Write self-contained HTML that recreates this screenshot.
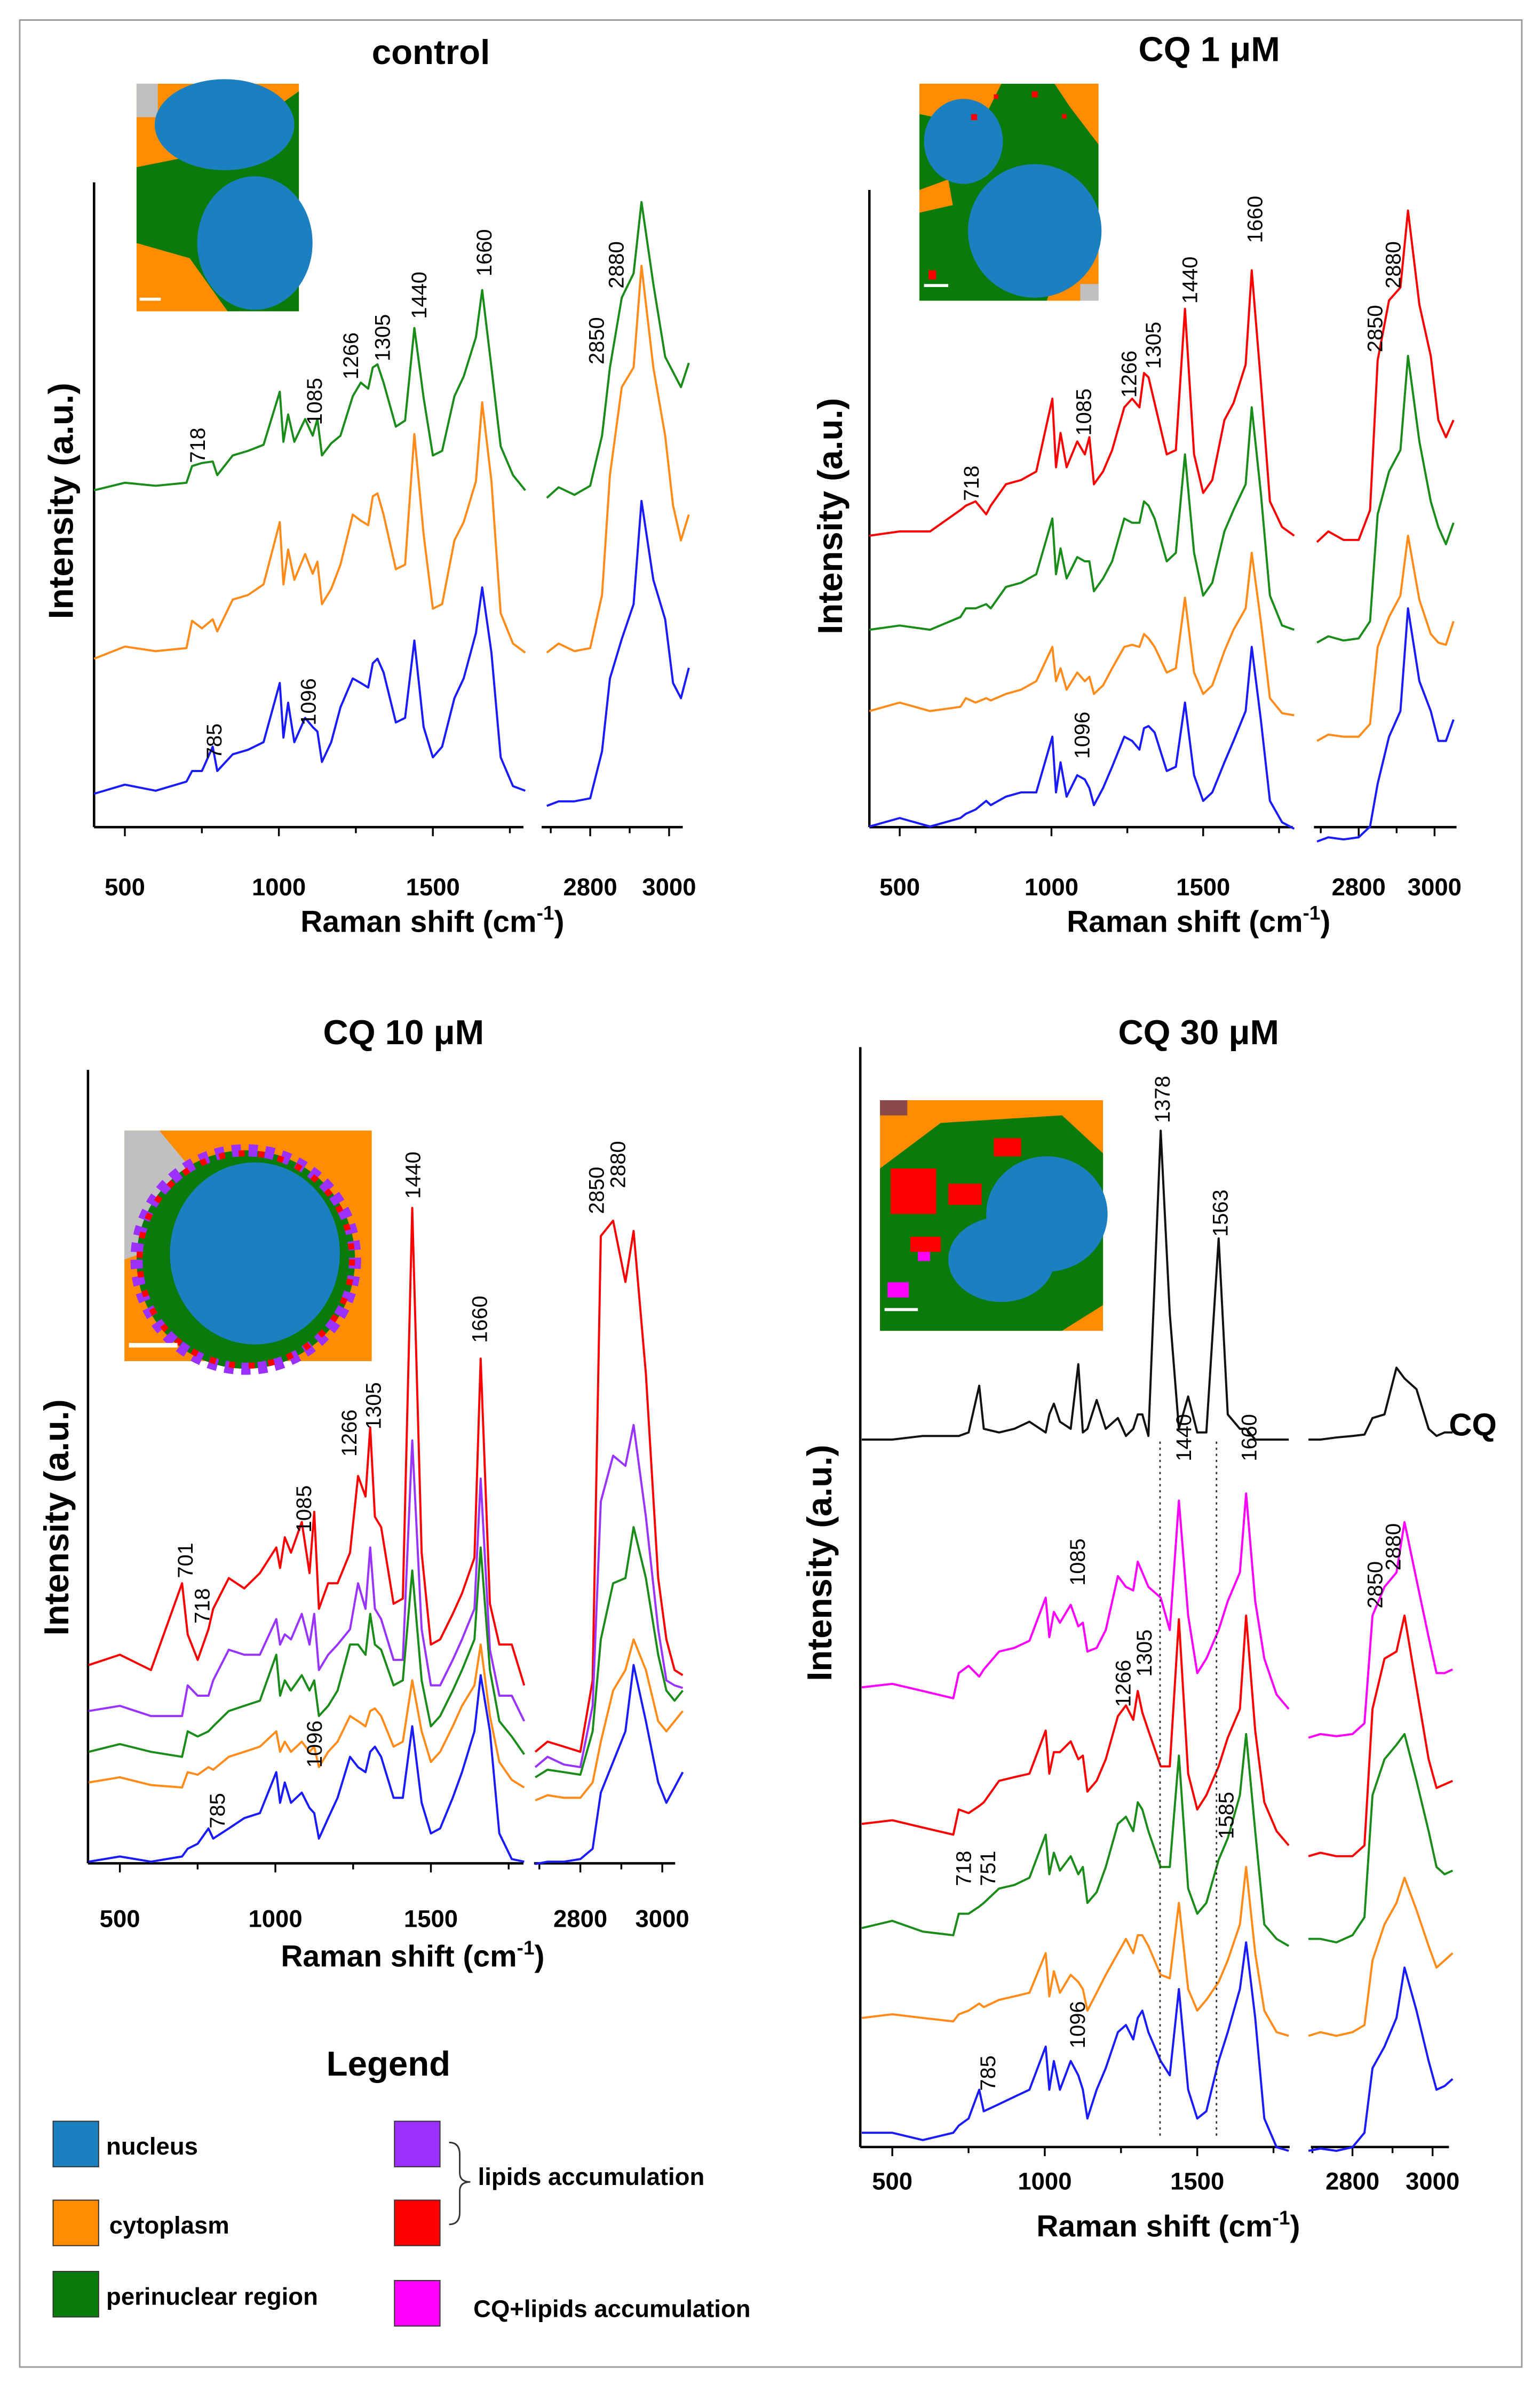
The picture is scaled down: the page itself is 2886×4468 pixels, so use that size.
<!DOCTYPE html>
<html><head><meta charset="utf-8"><style>
html,body{margin:0;padding:0;background:#fff}
svg{display:block}
text{font-family:"Liberation Sans",Arial,sans-serif}
</style></head><body>
<svg id="fig" width="2886" height="4468" viewBox="0 0 1015 1571" xmlns="http://www.w3.org/2000/svg">
<rect x="13" y="13" width="990" height="1547" fill="none" stroke="#999" stroke-width="1"/>
<g>
<rect x="90" y="55" width="107" height="150" fill="#ff8c00"/>
<rect x="90" y="55" width="14" height="22" fill="#c0c0c0"/>
<path d="M90 110 L140 100 L197 60 L197 205 L150 205 L125 170 L90 160 Z" fill="#0a7a0a"/>
<ellipse cx="148" cy="82" rx="46" ry="30" fill="#1a80c0"/>
<ellipse cx="168" cy="160" rx="38" ry="44" fill="#1a80c0"/>
<rect x="92" y="196" width="14" height="2" fill="#fff"/>
</g>
<g>
<rect x="606" y="55" width="118" height="143" fill="#0a7a0a"/>
<path d="M606 55 L660 55 L650 75 L630 80 L606 75 Z" fill="#ff8c00"/>
<path d="M695 55 L724 55 L724 95 L705 70 Z" fill="#ff8c00"/>
<path d="M606 125 L625 118 L628 135 L606 140 Z" fill="#ff8c00"/>
<path d="M700 165 L724 160 L724 198 L690 198 Z" fill="#ff8c00"/>
<ellipse cx="635" cy="93" rx="26" ry="28" fill="#1a80c0"/>
<ellipse cx="682" cy="152" rx="44" ry="44" fill="#1a80c0"/>
<rect x="712" y="187" width="12" height="11" fill="#c0c0c0"/>
<rect x="640" y="75" width="4" height="4" fill="#ff0000"/><rect x="680" y="60" width="4" height="4" fill="#ff0000"/><rect x="612" y="178" width="5" height="6" fill="#ff0000"/>
<rect x="655" y="62" width="3" height="3" fill="#ff0000"/><rect x="700" y="75" width="3" height="3" fill="#ff0000"/>
<rect x="609" y="187" width="16" height="2" fill="#fff"/>
</g>
<g>
<rect x="82" y="745" width="163" height="152" fill="#ff8c00"/>
<path d="M82 745 L105 745 L130 775 L110 820 L82 830 Z" fill="#c0c0c0"/>
<ellipse cx="162" cy="830" rx="72" ry="72" fill="#0a7a0a"/>
<ellipse cx="162" cy="830" rx="72" ry="72" fill="none" stroke="#9b30ff" stroke-width="8" stroke-dasharray="6 5"/>
<ellipse cx="162" cy="830" rx="70" ry="70" fill="none" stroke="#ff0000" stroke-width="4" stroke-dasharray="4 9"/>
<ellipse cx="168" cy="826" rx="56" ry="60" fill="#1a80c0"/>
<rect x="85" y="885" width="32" height="3" fill="#fff"/>
</g>
<g>
<rect x="580" y="725" width="147" height="152" fill="#ff8c00"/>
<path d="M580 770 L620 740 L700 735 L727 760 L727 860 L700 877 L580 877 Z" fill="#0a7a0a"/>
<ellipse cx="690" cy="800" rx="40" ry="38" fill="#1a80c0"/>
<ellipse cx="660" cy="830" rx="35" ry="28" fill="#1a80c0"/>
<rect x="587" y="770" width="30" height="30" fill="#ff0000"/><rect x="625" y="780" width="22" height="14" fill="#ff0000"/>
<rect x="600" y="815" width="20" height="10" fill="#ff0000"/><rect x="655" y="750" width="18" height="12" fill="#ff0000"/>
<rect x="585" y="845" width="14" height="10" fill="#ff00ff"/><rect x="605" y="825" width="8" height="6" fill="#ff00ff"/>
<rect x="580" y="725" width="18" height="10" fill="#8b4a4a"/>
<rect x="583" y="862" width="22" height="2" fill="#fff"/>
</g>
<g id="plots"></g>
<g font-weight="bold" font-size="16">
<text x="256" y="1368" font-size="23" text-anchor="middle">Legend</text>
<rect x="35" y="1398" width="30" height="30" fill="#1a80c0" stroke="#333" stroke-width="0.7"/>
<text x="70" y="1420">nucleus</text>
<rect x="35" y="1450" width="30" height="30" fill="#ff8c00" stroke="#333" stroke-width="0.7"/>
<text x="72" y="1472">cytoplasm</text>
<rect x="35" y="1497" width="30" height="30" fill="#0a7a0a" stroke="#333" stroke-width="0.7"/>
<text x="70" y="1519">perinuclear region</text>
<rect x="260" y="1398" width="30" height="30" fill="#9b30ff" stroke="#333" stroke-width="0.7"/>
<rect x="260" y="1450" width="30" height="30" fill="#ff0000" stroke="#333" stroke-width="0.7"/>
<path d="M296 1412 Q303 1412 303 1420 L303 1432 Q303 1438 310 1438 Q303 1438 303 1444 L303 1458 Q303 1466 296 1466" fill="none" stroke="#333" stroke-width="1"/>
<text x="315" y="1440">lipids accumulation</text>
<rect x="260" y="1503" width="30" height="30" fill="#ff00ff" stroke="#333" stroke-width="0.7"/>
<text x="312" y="1527">CQ+lipids accumulation</text>
</g>
</svg>
<script>
const FP=[400,500,600,700,718,750,785,800,850,900,950,1003,1015,1030,1050,1085,1110,1125,1140,1170,1200,1240,1266,1290,1305,1320,1340,1380,1410,1440,1470,1500,1530,1570,1600,1640,1660,1690,1720,1760,1800];
const HW=[2690,2720,2760,2800,2830,2850,2880,2910,2930,2960,2990,3010,3030,3050];
const fpTicks=[500,1000,1500];
const hwTicks=[2800,3000];
const ctrlGreenFP=[222,227,225,227,238,240,241,232,245,248,252,287,254,272,254,269,258,269,245,253,258,284,293,289,303,305,293,264,268,329,283,245,248,284,297,323,354,303,251,232,222];
const ctrlGreenHW=[217,224,219,225,258,303,349,365,412,358,310,300,290,306];
const ctrlOrangeFP=[111,119,116,118,136,131,137,129,150,153,160,201,160,183,163,180,167,175,147,157,173,206,202,199,218,220,206,170,173,259,193,144,147,189,201,228,280,228,141,121,115];
const ctrlOrangeHW=[115,121,116,118,153,232,290,303,370,303,258,212,189,206];
const ctrlBlueFP=[22,28,24,30,37,37,53,37,48,51,56,95,59,82,56,72,66,63,43,56,79,98,95,92,108,111,102,69,72,123,66,46,53,85,98,128,158,115,46,27,24];
const ctrlBlueHW=[14,17,17,19,50,98,124,147,215,163,137,95,85,105];
const cq1RedFP=[760,770,770,820,830,840,810,830,880,890,910,1080,920,1000,920,980,950,990,880,910,960,1060,1080,1060,1140,1130,1070,950,960,1290,950,860,890,1030,1070,1160,1380,1120,840,780,760];
const cq1RedHW=[745,770,750,750,820,1170,1310,1340,1520,1300,1180,1030,990,1030];
const cq1GreenFP=[540,550,540,570,590,590,600,590,640,650,670,800,670,730,660,710,700,700,630,660,700,800,790,790,840,830,800,700,720,950,720,620,650,770,820,880,1060,860,620,550,540];
const cq1GreenHW=[510,525,515,520,560,810,910,960,1180,980,840,780,740,790];
const cq1OrangeFP=[350,370,350,360,380,370,380,375,390,400,420,500,420,450,400,440,420,430,390,410,450,500,505,500,530,520,500,440,450,615,440,390,410,490,540,590,720,560,380,345,340];
const cq1OrangeHW=[280,295,290,290,320,500,570,620,760,610,530,510,505,560];
const cq1BlueFP=[80,100,80,100,110,120,140,130,150,160,160,290,160,230,150,200,190,170,130,170,220,290,280,260,310,315,300,210,220,370,200,140,160,230,280,350,500,330,140,90,75];
const cq1BlueHW=[45,55,50,55,80,180,290,350,590,420,350,280,280,330];
const cq10RedFP=[430,450,420,590,490,440,500,540,600,580,610,660,620,680,650,710,610,730,540,590,590,650,800,760,895,720,700,550,560,1325,650,470,480,530,570,640,1030,550,470,470,390];
const cq10RedHW=[260,280,270,260,400,1270,1300,1180,1280,1000,600,480,420,410];
const cq10PurpleFP=[340,350,330,330,390,370,370,400,460,450,450,520,470,490,480,530,470,530,420,450,470,500,590,540,660,540,520,440,440,870,500,390,390,440,480,540,795,460,370,370,320];
const cq10PurpleHW=[230,250,235,230,350,750,840,820,900,720,500,400,390,385];
const cq10GreenFP=[260,275,260,250,300,290,300,310,340,350,360,450,370,400,380,410,380,400,330,350,380,470,470,450,530,470,460,390,400,615,400,310,330,380,420,480,660,420,320,290,255];
const cq10GreenHW=[210,225,220,215,300,480,590,600,700,600,450,380,360,380];
const cq10OrangeFP=[200,210,195,190,220,215,230,225,250,260,270,300,260,280,260,280,260,270,230,260,280,330,320,310,340,345,330,270,280,400,300,240,260,310,350,390,470,330,240,205,190];
const cq10OrangeHW=[165,175,170,170,200,280,380,420,480,420,320,300,320,340];
const cq10BlueFP=[45,55,45,55,70,80,110,90,110,130,140,220,160,200,160,180,150,140,90,130,170,250,230,220,260,270,250,170,170,310,160,100,110,170,220,300,410,300,100,50,45];
const cq10BlueHW=[40,45,45,50,70,180,240,300,430,320,200,160,190,220];
const cq30BlackFP=[1045,1045,1050,1050,1050,1055,1120,1060,1055,1060,1070,1055,1080,1095,1070,1060,1150,1055,1060,1100,1060,1075,1050,1060,1080,1080,1050,1475,1220,1060,1105,1055,1055,1325,1080,1060,1060,1045,1045,1045,1045];
const cq30BlackHW=[1045,1045,1048,1050,1052,1075,1080,1145,1130,1115,1060,1050,1055,1055];
const cq30MagentaFP=[700,705,695,685,720,730,715,725,750,755,765,825,770,805,790,815,785,790,750,755,780,855,840,835,875,860,840,825,780,960,800,720,740,780,820,860,970,820,740,690,670];
const cq30MagentaHW=[630,635,632,635,650,800,840,860,930,850,770,720,720,725];
const cq30RedFP=[510,515,505,495,530,525,535,540,570,575,580,640,580,610,610,625,600,605,555,570,600,660,675,655,695,665,640,590,590,795,580,530,550,590,630,670,800,640,540,500,480];
const cq30RedHW=[465,470,465,465,480,670,740,750,800,700,600,560,565,570];
const cq30GreenFP=[365,375,360,355,385,385,395,400,420,425,435,495,440,470,445,465,440,450,400,415,450,510,520,500,540,530,500,450,450,605,420,385,400,460,490,550,635,500,370,350,340];
const cq30GreenHW=[350,350,345,355,380,550,600,620,635,570,500,450,440,445];
const cq30OrangeFP=[240,245,240,235,245,250,260,255,265,270,275,330,270,305,275,300,290,280,250,275,300,330,350,330,355,355,340,300,295,400,280,250,265,290,320,370,450,330,250,220,215];
const cq30OrangeHW=[215,220,215,220,230,320,370,400,435,390,340,310,320,330];
const cq30BlueFP=[80,80,70,80,90,100,140,110,120,130,140,200,140,180,140,180,160,140,100,140,170,220,230,210,240,250,220,180,160,280,140,100,110,180,220,280,345,240,100,60,55];
const cq30BlueHW=[55,58,55,60,80,170,200,240,310,250,180,140,145,155];
const cq30Markers=[1378,1563];

const C={green:'#1a8c1a',orange:'#ff8c1a',blue:'#1a1aff',red:'#ff0000',purple:'#9933ff',magenta:'#ff00ff',black:'#111'};
const NS='http://www.w3.org/2000/svg';
const root=document.getElementById('plots');
function mk(tag,attrs,parent){const e=document.createElementNS(NS,tag);for(const k in attrs)e.setAttribute(k,attrs[k]);(parent||root).appendChild(e);return e;}

const panels=[
 {id:'control',title:'control',tx:284,ty:42,fx0:62,fk:0.203,hx0:402,hk:0.26,y0:545,yk:1,top:120,bot:545,fpA:[62,345],hwA:[357,450],tickY:590,xlab:[285,614],ylab:[48,330],
  series:[['green',ctrlGreenFP,ctrlGreenHW],['orange',ctrlOrangeFP,ctrlOrangeHW],['blue',ctrlBlueFP,ctrlBlueHW]],
  labels:[['718',130,305],['1085',207,280],['1266',231,250],['1305',252,238],['1440',276,210],['1660',319,182],['2850',393,240],['2880',406,190],['785',141,500],['1096',203,478]]},
 {id:'cq1',title:'CQ 1 μM',tx:797,ty:40,fx0:573,fk:0.2,hx0:908,hk:0.25,y0:567.2,yk:0.282,top:125,bot:545,fpA:[573,852],hwA:[866,960],tickY:590,xlab:[790,614],ylab:[555,340],
  series:[['red',cq1RedFP,cq1RedHW],['green',cq1GreenFP,cq1GreenHW],['orange',cq1OrangeFP,cq1OrangeHW],['blue',cq1BlueFP,cq1BlueHW]],
  labels:[['718',640,330],['1085',714,287],['1266',744,262],['1305',760,243],['1440',784,200],['1660',827,160],['2850',906,232],['2880',918,190],['1096',713,500]]},
 {id:'cq10',title:'CQ 10 μM',tx:266,ty:688,fx0:58.5,fk:0.205,hx0:396,hk:0.27,y0:1242,yk:0.3366,top:705,bot:1228,fpA:[58,345],hwA:[352,445],tickY:1270,xlab:[272,1296],ylab:[45,1000],
  series:[['red',cq10RedFP,cq10RedHW],['purple',cq10PurpleFP,cq10PurpleHW],['green',cq10GreenFP,cq10GreenHW],['orange',cq10OrangeFP,cq10OrangeHW],['blue',cq10BlueFP,cq10BlueHW]],
  labels:[['701',122,1040],['718',133,1070],['1085',200,1010],['1266',230,960],['1305',246,942],['1440',272,790],['1660',316,885],['2850',393,800],['2880',407,783],['785',143,1205],['1096',207,1165]]},
 {id:'cq30',title:'CQ 30 μM',tx:790,ty:688,fx0:568,fk:0.201,hx0:904.6,hk:0.264,y0:1443.5,yk:0.4735,top:690,bot:1415,fpA:[567,850],hwA:[864,955],tickY:1443,xlab:[770,1474],ylab:[548,1030],
  series:[['black',cq30BlackFP,cq30BlackHW],['magenta',cq30MagentaFP,cq30MagentaHW],['red',cq30RedFP,cq30RedHW],['green',cq30GreenFP,cq30GreenHW],['orange',cq30OrangeFP,cq30OrangeHW],['blue',cq30BlueFP,cq30BlueHW]],
  labels:[['1378',766,740],['1563',804,815],['1440',780,963],['1660',823,963],['1085',710,1045],['1266',740,1125],['1305',754,1105],['2850',906,1060],['2880',918,1035],['1585',808,1212],['718',635,1243],['751',651,1243],['785',651,1378],['1096',710,1350]]}
];

panels.forEach(p=>{
  const g=mk('g',{});
  
  
  const xf=v=>p.fx0+(v-400)*p.fk;
  const xh=v=>p.hx0+(v-2850)*p.hk;
  const y=v=>p.y0-v*p.yk;
  const t=mk('text',{x:p.tx,y:p.ty,'font-size':23,'font-weight':'bold','text-anchor':'middle'},g);
  t.textContent=p.title;
  
  
  const ya=mk('line',{x1:p.fpA[0],y1:p.top,x2:p.fpA[0],y2:p.bot,stroke:'#000','stroke-width':1.6},g);
  
  
  const xa=mk('line',{x1:p.fpA[0],y1:p.bot,x2:p.fpA[1],y2:p.bot,stroke:'#000','stroke-width':1.6},g);
  
  
  const xa2=mk('line',{x1:p.hwA[0],y1:p.bot,x2:p.hwA[1],y2:p.bot,stroke:'#000','stroke-width':1.6},g);
  
  
  for(let v=500;v<=1750;v+=250){const X=xf(v);if(X>p.fpA[1])break;const major=fpTicks.includes(v);
    const tk=mk('line',{x1:X,y1:p.bot,x2:X,y2:p.bot+(major?6:4),stroke:'#000','stroke-width':1.2},g);
    
    
    if(major){const tl=mk('text',{x:X,y:p.tickY,'font-size':16,'font-weight':'bold','text-anchor':'middle'},g);tl.textContent=v;
      
      }}
  for(let v=2700;v<=3000;v+=100){const X=xh(v);if(X<p.hwA[0]||X>p.hwA[1])continue;const major=hwTicks.includes(v);
    const tk=mk('line',{x1:X,y1:p.bot,x2:X,y2:p.bot+(major?6:4),stroke:'#000','stroke-width':1.2},g);
    
    
    if(major){const tl=mk('text',{x:X,y:p.tickY,'font-size':16,'font-weight':'bold','text-anchor':'middle'},g);tl.textContent=v;
      
      }}
  const xl=mk('text',{x:p.xlab[0],y:p.xlab[1],'font-size':20,'font-weight':'bold','text-anchor':'middle'},g);
  xl.innerHTML='Raman shift (cm<tspan dy="-8" font-size="13">-1</tspan><tspan dy="8">)</tspan>';
  
  
  const yl=mk('text',{x:0,y:0,'font-size':23,'font-weight':'bold','text-anchor':'middle',transform:`translate(${p.ylab[0]},${p.ylab[1]}) rotate(-90)`},g);
  yl.textContent='Intensity (a.u.)';
  
  
  p.series.forEach(s=>{
    const d1=FP.map((v,i)=>(i?'L':'M')+xf(v).toFixed(1)+' '+y(s[1][i]).toFixed(1)).join(' ');
    const d2=HW.map((v,i)=>(i?'L':'M')+xh(v).toFixed(1)+' '+y(s[2][i]).toFixed(1)).join(' ');
    const a=mk('path',{d:d1,fill:'none',stroke:C[s[0]],'stroke-width':1.4,'stroke-linejoin':'round'},g);
    
    
    const b=mk('path',{d:d2,fill:'none',stroke:C[s[0]],'stroke-width':1.4,'stroke-linejoin':'round'},g);
    
    
  });
  p.labels.forEach(l=>{
    const e=mk('text',{x:0,y:0,'font-size':14,transform:`translate(${l[1]+5},${l[2]}) rotate(-90)`},g);
    e.textContent=l[0];
    
    
  });
  if(p.id==='cq30'){
    cq30Markers.forEach(m=>{
      const dl=mk('line',{x1:xf(m),y1:950,x2:xf(m),y2:1410,stroke:'#333','stroke-width':1,'stroke-dasharray':'1.5 2.5'},g);
      
      
    });
    const cq=mk('text',{x:955,y:946,'font-size':21,'font-weight':'bold'},g);
    cq.textContent='CQ';
    
    
  }
});
</script>
</body></html>
